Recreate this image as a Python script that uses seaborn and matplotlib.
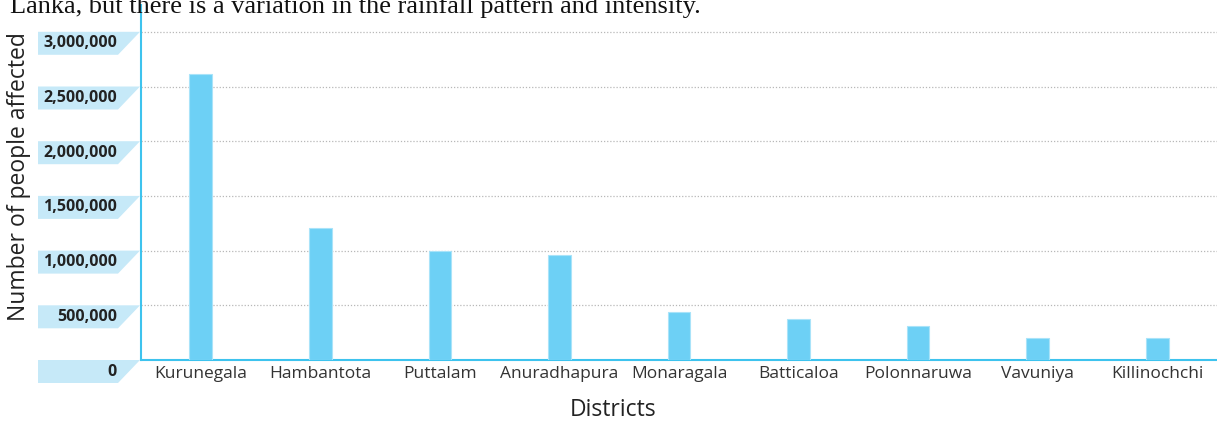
import matplotlib
matplotlib.use("Agg")
import matplotlib.pyplot as plt
import seaborn as sns
import pandas as pd
from matplotlib.patches import Polygon

districts = ["Kurunegala", "Hambantota", "Puttalam", "Anuradhapura", "Monaragala",
             "Batticaloa", "Polonnaruwa", "Vavuniya", "Killinochchi"]
affected = [2615000, 1205000, 995000, 960000, 440000, 372000, 308000, 200000, 200000]
yticks = [0, 500000, 1000000, 1500000, 2000000, 2500000, 3000000]
ytick_labels = ["0", "500,000", "1,000,000", "1,500,000", "2,000,000", "2,500,000", "3,000,000"]

sns.set_style("white")
plt.rcParams["font.family"] = ["Open Sans", "DejaVu Sans"]

df = pd.DataFrame({"district": districts, "affected": affected})

W, H = 1217, 423
fig = plt.figure(figsize=(W / 100, H / 100), dpi=100)
left, right, bottom, top = 141 / W, 1.0, (H - 360) / H, (H - 5) / H
ax = fig.add_axes([left, bottom, right - left, top - bottom])

bar_color = "#6DD0F5"
line_color = "#3EC3EE"
sns.barplot(data=df, x="district", y="affected", color=bar_color, width=0.19,
            edgecolor="#A9E3F9", linewidth=0.8, saturation=1, ax=ax, zorder=3)

ymax = 3245000
ax.set_xlim(-0.5, len(districts) - 0.5)
ax.set_ylim(0, ymax)
ax.set_yticks(yticks)
ax.set_yticklabels([])
ax.tick_params(axis="y", length=0)
ax.tick_params(axis="x", length=0, pad=4, labelsize=12.5, labelcolor="#333333")
ax.yaxis.grid(True, linestyle=(0, (1, 1.5)), color="#b8b8b8", linewidth=0.9)
ax.set_axisbelow(True)

for s in ["top", "right"]:
    ax.spines[s].set_visible(False)
for s in ["left", "bottom"]:
    ax.spines[s].set_color(line_color)
    ax.spines[s].set_linewidth(1.5)

ax.set_xlabel("")
ax.set_ylabel("")
fig.text(613 / W, (H - 410) / H, "Districts", ha="center", va="center",
         fontsize=16.5, color="#222222")
fig.text(19 / W, (H - 177) / H, "Number of people affected", rotation=90,
         ha="center", va="center", fontsize=16.5, color="#222222")

# slanted label boxes for the y ticks, hanging below each gridline
for val, lab in zip(yticks, ytick_labels):
    y_top = bottom + (val / ymax) * (top - bottom)
    hgt = 23 / H
    verts = [(38 / W, y_top), (140 / W, y_top), (118 / W, y_top - hgt), (38 / W, y_top - hgt)]
    fig.patches.append(Polygon(verts, closed=True, transform=fig.transFigure,
                               facecolor="#C6E9F8", edgecolor="none"))
    fig.text(117 / W, y_top - hgt / 2, lab, ha="right", va="center",
             fontsize=11.5, fontweight="bold", color="#222222")

# clipped line of body text above the chart
fig.text(10 / W, 1 - 13 / H,
         "Lanka, but there is a variation in the rainfall pattern and intensity.",
         ha="left", va="baseline", fontsize=19, family="Liberation Serif", color="#111111")

fig.savefig("out.png", dpi=100)
